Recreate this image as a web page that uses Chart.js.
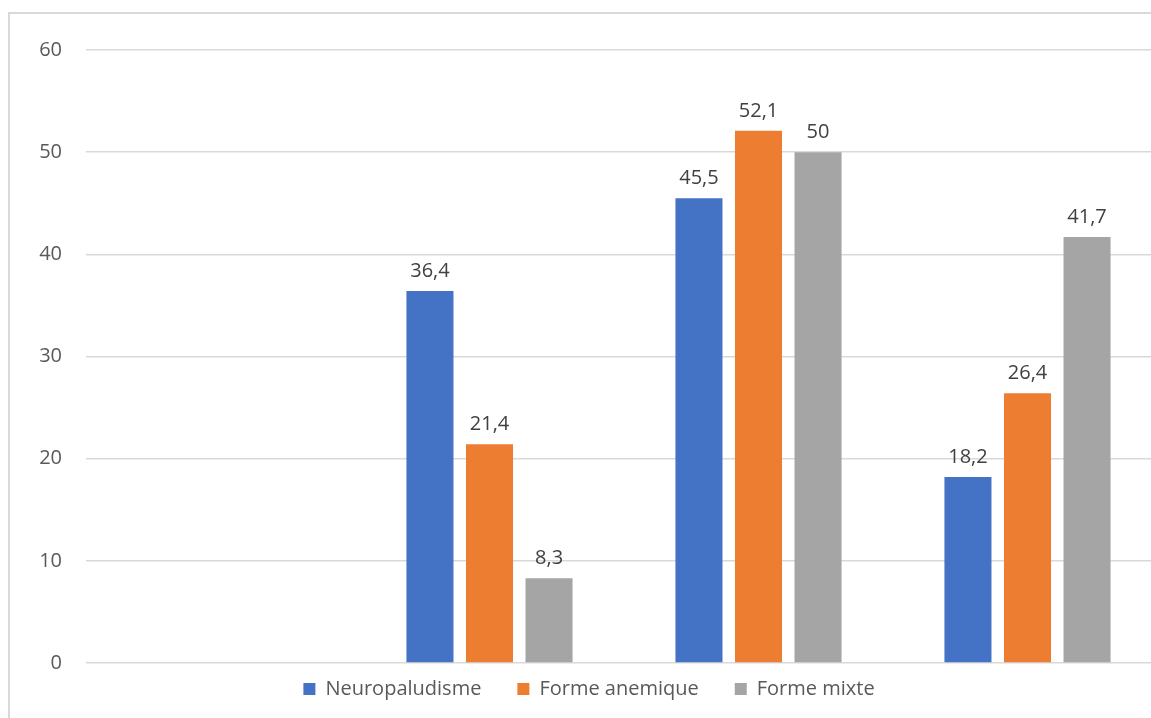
<!DOCTYPE html>
<html>
<head>
<meta charset="utf-8">
<script src="https://cdn.jsdelivr.net/npm/chart.js@4"></script>
<style>
  html, body { margin: 0; padding: 0; overflow: hidden; background: #fff; width: 1151px; height: 718px; }
  #frame { position: absolute; left: 8px; top: 12px; width: 1300px; height: 900px; border: 2px solid #d9d9d9; box-sizing: border-box; }
  #wrap { position: absolute; left: 0; top: 0; }
</style>
</head>
<body>
<div id="frame"></div>
<div id="wrap"><canvas id="chart" width="1176" height="729"></canvas></div>
<script>
// categories are unnamed in the picture
let categories = ['', '', '', ''];

let neuro_values = [null, 36.4, 45.5, 18.2];
let anemique_values = [null, 21.4, 52.1, 26.4];
let mixte_values = [null, 8.3, 50, 41.7];

let y_ticks = [0, 10, 20, 30, 40, 50, 60];

const fontFamily = '"Open Sans", "Liberation Sans", sans-serif';

// values on top of bars, with comma decimals
const valueLabels = {
    id: 'valueLabels',
    afterDatasetsDraw(chart) {
        const ctx = chart.ctx;
        ctx.save();
        ctx.font = '20px ' + fontFamily;
        ctx.fillStyle = '#404040';
        ctx.textAlign = 'center';
        ctx.textBaseline = 'alphabetic';
        chart.data.datasets.forEach((ds, i) => {
            const meta = chart.getDatasetMeta(i);
            meta.data.forEach((bar, j) => {
                const v = ds.data[j];
                if (v === null || v === undefined) return;
                ctx.fillText(String(v).replace('.', ','), bar.x, bar.y - 14);
            });
        });
        ctx.restore();
    }
};

const data = {
    labels: categories,
    datasets: [{
        label: 'Neuropaludisme',
        data: neuro_values,
        backgroundColor: '#4472C4'
    }, {
        label: 'Forme anemique',
        data: anemique_values,
        backgroundColor: '#ED7D31'
    }, {
        label: 'Forme mixte',
        data: mixte_values,
        backgroundColor: '#A5A5A5'
    }]
};

const config = {
    type: 'bar',
    data: data,
    options: {
        responsive: false,
        animation: false,
        categoryPercentage: 0.664,
        barPercentage: 0.79,
        layout: {
            padding: { top: 50, right: 14, bottom: 0, left: 16 }
        },
        plugins: {
            legend: {
                position: 'bottom',
                labels: {
                    boxWidth: 12,
                    boxHeight: 12,
                    padding: 36,
                    color: '#595959',
                    font: { family: fontFamily, size: 20 }
                }
            },
            tooltip: { enabled: false }
        },
        scales: {
            x: {
                afterFit(scale) { scale.height = -20; },
                grid: { display: false, drawTicks: false },
                border: { display: false },
                ticks: { display: false }
            },
            y: {
                min: 0,
                max: 60,
                afterFit(scale) { scale.width = 70; },
                afterBuildTicks(scale) { scale.ticks = y_ticks.map(v => ({ value: v })); },
                grid: { color: '#d9d9d9', lineWidth: 1.5, drawTicks: false },
                border: { display: false },
                ticks: {
                    padding: 24,
                    color: '#595959',
                    font: { family: fontFamily, size: 20 }
                }
            }
        }
    },
    plugins: [valueLabels]
};

const chart = new Chart(document.getElementById('chart'), config);
</script>
</body>
</html>
